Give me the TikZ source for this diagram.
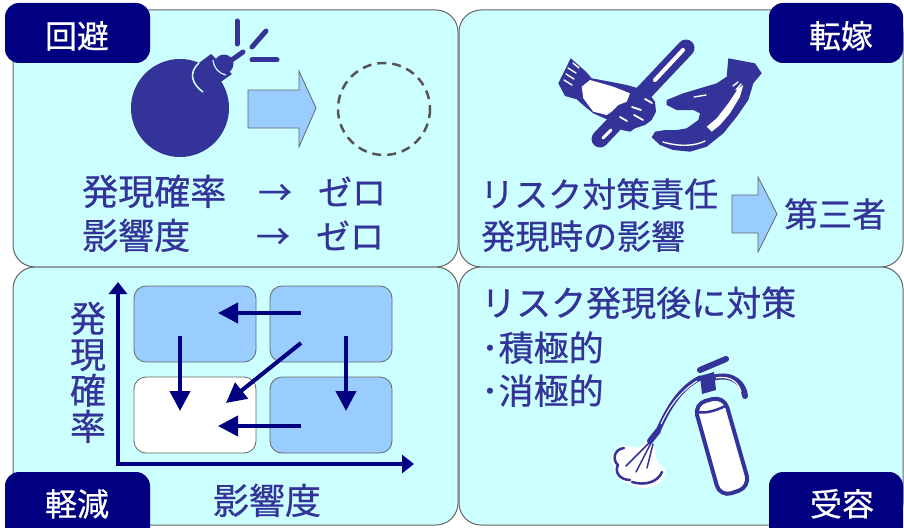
\documentclass[tikz,border=0pt]{standalone}
\usepackage{fontspec}
\newfontfamily\jp[FakeBold=0.6]{Noto Sans CJK JP}
\usetikzlibrary{arrows.meta}

\definecolor{panelfill}{HTML}{CCFFFF}
\definecolor{panelline}{HTML}{666666}
\definecolor{tabnavy}{HTML}{000080}
\definecolor{inkblue}{HTML}{333399}
\definecolor{lightblue}{HTML}{99CCFF}
\definecolor{dashgray}{HTML}{555555}

\tikzset{
  panel/.style={draw=panelline, fill=panelfill, line width=1pt, rounded corners=22pt},
  tab/.style={fill=tabnavy, rounded corners=14pt},
  tabtext/.style={text=white, font=\jp\fontsize{32}{32}\selectfont, anchor=base, inner sep=0pt},
  body/.style={text=inkblue, font=\jp\fontsize{34}{34}\selectfont, anchor=base west, inner sep=0pt},
  bodyc/.style={body, anchor=base},
  big/.style={font=\jp\fontsize{36}{36}\selectfont},
  mid/.style={font=\jp\fontsize{35}{35}\selectfont},
  blockarrow/.style={draw=panelline, fill=lightblue, line width=0.8pt},
  cell/.style={draw=panelline, line width=0.8pt, rounded corners=12pt, fill=lightblue,
    minimum width=122pt, minimum height=76pt, inner sep=0pt, outer sep=0pt},
  flow/.style={draw=tabnavy, line width=4pt, -{Triangle[length=20pt,width=20pt]}},
  axis/.style={draw=tabnavy, line width=4pt, {Triangle[length=12pt,width=18pt]}-{Triangle[length=12pt,width=18pt]}},
  inkline/.style={draw=inkblue, line cap=round, line join=round},
}

\begin{document}
\begin{tikzpicture}[x=1pt, y=-1pt]
\useasboundingbox (0,0) rectangle (904,527);

% ---- four panels
\path[panel] (13,10) rectangle (458,267);
\path[panel] (459,10) rectangle (903,267);
\path[panel] (13,267) rectangle (458,525);
\path[panel] (459,267) rectangle (903,525);

% ---- tabs
\path[tab] (5,3) rectangle (150,63);
\path[tab] (769,3) rectangle (903,63);
\path[tab] (5,472) rectangle (150,545);
\path[tab] (769,472) rectangle (903,545);
\node[tabtext] (tavoid) at (77,48) {回避};
\node[tabtext] (ttransfer) at (841,48) {転嫁};
\node[tabtext] (treduce) at (77,516) {軽減};
\node[tabtext] (taccept) at (842,516) {受容};

% ==== avoidance: bomb
\fill[inkblue] (180,108) circle (49);
\fill[inkblue] (195,66) -- (211,54) -- (232,74) -- (205,93) -- cycle;
\draw[panelfill, line width=1.6pt] (199,63) .. controls (188,73) and (192,84) .. (203,92);
\fill[inkblue] (224,64) circle (9.5);
\draw[panelfill, line width=1.2pt] (213,60) .. controls (214,68) and (218,73) .. (226,75);
\draw[inkline, line width=5pt] (226,64) -- (243,52);
\draw[inkline, line width=5pt] (237,21) -- (237,44);
\draw[inkline, line width=5pt] (252,47) -- (266,31);
\draw[inkline, line width=5pt] (252,60) -- (277,60);

\path[blockarrow] (248,90) -- (299,90) -- (299,71) -- (316,108) -- (299,147) -- (299,128) -- (248,128) -- cycle;
\draw[dashgray, line width=2.5pt, dash pattern=on 9pt off 6pt] (384,109) circle (46);

\node[body, big] (p1) at (82,205) {発現確率};
\node[bodyc] (a1) at (275,205) {→};
\node[bodyc] (z1) at (352,205) {ゼロ};
\node[body, big] (p2) at (82,249) {影響度};
\node[bodyc] (a2) at (273,249) {→};
\node[bodyc] (z2) at (350,249) {ゼロ};

% ==== transfer: baton and hands
\draw[inkblue, line width=17pt, line cap=round] (600,139) -- (686,48);
\draw[white, line width=4pt, line cap=round] (655,80) -- (683,50);
\draw[white, line width=3pt, line cap=round] (603,138) -- (611,130);
% giving hand
\fill[inkblue] (570.7,58.3) -- (586,71.7) -- (591.7,78.3) -- (610,81.7) -- (626.7,85)
  -- (638.3,88.3) -- (650,95) -- (655,101.7) -- (656,111.7) -- (651.7,120) -- (645,125)
  -- (635,128.3) -- (630,131.7) -- (621.7,130) -- (616.7,125) -- (608.3,120)
  -- (593.3,113.3) -- (585,106.7) -- (576.7,99.3) -- (565,96) -- (558.3,83.3) -- cycle;
\fill[white] (581.7,86.7) -- (590,80) -- (613.3,86.7) -- (630,93.3) -- (626.7,101.7)
  -- (618.3,105) -- (611.7,111.7) -- (606.7,115) -- (593.3,111.7) -- (583.3,98.3) -- cycle;
\draw[white, line width=1.4pt, line cap=round] (566,74) -- (574,79) (564,80) -- (572,85)
  (568,68) -- (576,73) (573,63) -- (579,68);
\draw[white, line width=1.8pt, line cap=round] (632,107) -- (641,110) (634,115) -- (643,120)
  (620,117) -- (627,121) (645,99) -- (652,103);
% receiving hand
\fill[inkblue] (728.3,58.3) -- (755,63.3) -- (761.7,73.3) -- (753.3,83.3) -- (748.3,100)
  -- (736.7,116.7) -- (723.3,133.3) -- (706.7,146.7) -- (690,151.7) -- (673.3,150)
  -- (660,145) -- (651.7,137.3) -- (655,131.7) -- (665,130) -- (676.7,130)
  -- (686.7,128.3) -- (698.3,120) -- (700,113.3) -- (693.3,110) -- (676.7,110)
  -- (666.7,105) -- (666.7,100) -- (683.3,93.3) -- (700,88.3) -- (716.7,83.3)
  -- (726.7,76.7) -- cycle;
\fill[white] (706.7,126.7) -- (716.7,118.3) -- (728.3,103.3) -- (738.3,88.3) -- (743.3,85)
  -- (740,96.7) -- (730,113.3) -- (720,125) -- (711.7,131.7) -- cycle;
\draw[white, line width=1.4pt, line cap=round] (733,86) -- (738,82) (736,90) -- (741,84)
  (694,97) -- (706,95) (663,142) .. controls (680,147) and (695,146) .. (705,141);

\node[body] (t1) at (480,207) {リスク対策責任};
\node[body] (t2) at (481,249) {発現時の影響};
\path[blockarrow] (732,195) -- (758,195) -- (758,177) -- (777,214) -- (758,252) -- (758,233) -- (732,233) -- cycle;
\node[body] (t3) at (784,227) {第三者};

% ==== reduction: probability / impact grid
\node[cell] (c11) at (195,324) {};
\node[cell] (c12) at (331,324) {};
\node[cell, fill=white] (c21) at (195,415) {};
\node[cell] (c22) at (331,415) {};

\coordinate (origin) at (118,464);
\coordinate (ytip) at (118,282);
\coordinate (xtip) at (414,464);
\draw[axis] (ytip) -- (origin) -- (xtip);

\coordinate (h1s) at (301,313); \coordinate (h1e) at (218,313);
\coordinate (h2s) at (301,426); \coordinate (h2e) at (218,426);
\coordinate (v1s) at (180,336); \coordinate (v1e) at (180,411);
\coordinate (v2s) at (346,336); \coordinate (v2e) at (346,411);
\coordinate (ds) at (301,343);  \coordinate (de) at (226,403);
\draw[flow] (h1s) -- (h1e);
\draw[flow] (h2s) -- (h2e);
\draw[flow] (v1s) -- (v1e);
\draw[flow] (v2s) -- (v2e);
\draw[flow] (ds) -- (de);

\node[bodyc, big] (y1) at (88,332) {発};
\node[bodyc, big] (y2) at (88,368) {現};
\node[bodyc, big] (y3) at (88,404) {確};
\node[bodyc, big] (y4) at (88,440) {率};
\node[bodyc, big] (xl) at (267,514) {影響度};

% ==== acceptance: extinguisher
\node[body, mid] (b1) at (481,316) {リスク発現後に対策};
\node[body, mid] (b2) at (481,361) {･積極的};
\node[body, mid] (b3) at (481,404) {･消極的};

\fill[white] plot[smooth cycle] coordinates {(650,441) (636,448) (622,445) (612,456)
  (614,468) (619,479) (632,485) (646,488) (661,482) (665,470) (657,461) (655,450)};
\draw[inkline, line width=2.5pt] (624,448) .. controls (614,449) and (612,460) .. (618,465)
  .. controls (614,472) and (620,480) .. (630,480);
\draw[inkline, line width=2.5pt] (632,482) .. controls (645,486) and (658,482) .. (662,472);
\draw[inkline, line width=1.5pt] (650,442) -- (626,466) (651,443) -- (636,472) (653,444) -- (647,468);
\draw[inkline, line width=6pt] (650,441) -- (658,431);
\draw[inkline, line width=5pt] (658,431) .. controls (668,408) and (680,388) .. (700,378);
\draw[white, line width=1pt] (661,424) .. controls (670,405) and (681,391) .. (697,381);
\fill[inkblue] (702,394) -- (716,390) -- (714,372) -- (700,376) -- cycle;
\draw[inkline, line width=6pt] (700,370) -- (726,359);
\draw[inkline, line width=6pt] (712,378) .. controls (734,372) and (744,385) .. (745,396);
\draw[white, line width=1.2pt] (716,378) .. controls (732,375) and (739,384) .. (741,392);
\draw[inkblue, line width=4pt, fill=white, rounded corners=12pt]
  (694,404) -- (724,396) -- (750,487) -- (720,497) -- cycle;
\draw[inkblue, line width=2.5pt] (697,412) .. controls (706,414) and (718,410) .. (727,405);

\end{tikzpicture}
\end{document}
